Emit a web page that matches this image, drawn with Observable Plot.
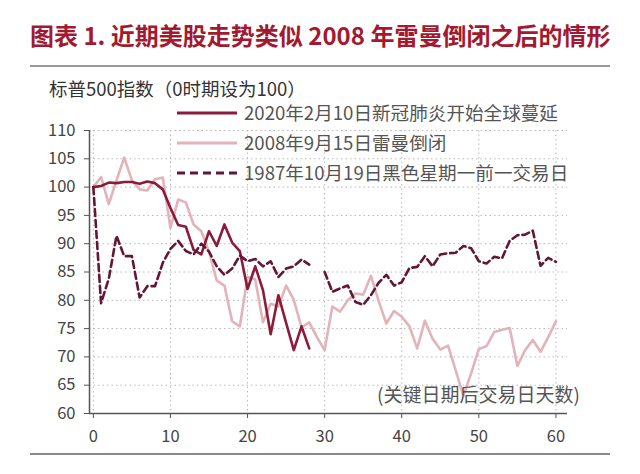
<!DOCTYPE html>
<html><head><meta charset="utf-8">
<script src="https://cdn.jsdelivr.net/npm/d3@7"></script>
<script src="https://cdn.jsdelivr.net/npm/@observablehq/plot@0.6"></script>
<style>
body{margin:0;background:#fff;font-family:"Noto Sans CJK SC","Noto Sans",sans-serif;}
#wrap{position:relative;width:640px;height:474px;overflow:hidden;background:#fff;}
#chart{position:absolute;left:0;top:0;}
.abs{position:absolute;white-space:nowrap;}
.leg{position:absolute;white-space:nowrap;font-size:18.6px;color:#555;line-height:24px;}
</style></head><body>
<div id="wrap">
  <div id="chart"></div>
  <div class="abs" style="left:30px;top:19px;font-size:24px;font-weight:bold;color:#a3192f;line-height:32px;">图表 1. 近期美股走势类似 2008 年雷曼倒闭之后的情形</div>
  <div class="abs" style="left:30px;top:65px;width:580px;height:2px;background:#9a9a9a"></div>
  <div class="abs" id="ylab" style="left:49px;top:76px;font-size:18.5px;color:#333;line-height:24px;"></div>
  <div id="legend"></div>
  <div class="abs" id="note" style="left:377px;top:381px;font-size:19px;color:#555;line-height:26px;"></div>
  <div class="abs" style="left:30px;top:453px;width:580px;height:2px;background:#8a8a8a"></div>
</div>
<script>
// ---- data ----
const seriesNames = ["2020年2月10日新冠肺炎开始全球蔓延", "2008年9月15日雷曼倒闭", "1987年10月19日黑色星期一前一交易日"];
const yTitle = "标普500指数（0时期设为100）";
const xNote = "(关键日期后交易日天数)";
const xTicks = [0, 10, 20, 30, 40, 50, 60];
const yTicks = [60, 65, 70, 75, 80, 85, 90, 95, 100, 105, 110];
const s2020 = [100, 100.2, 100.8, 100.7, 100.9, 100.9, 100.6, 101.0, 100.7, 99.6,
  96.3, 93.3, 93.0, 88.9, 88.1, 92.2, 89.6, 93.4, 90.2, 88.7,
  82.0, 86.0, 81.8, 74.0, 80.9, 76.0, 71.2, 75.4, 71.5];
const s2008 = [100, 101.8, 97.0, 101.2, 105.2, 101.2, 99.6, 99.4, 101.4, 101.7,
  92.8, 97.8, 97.3, 93.4, 92.2, 88.6, 83.5, 82.6, 76.3, 75.4,
  84.1, 83.7, 76.1, 79.4, 78.9, 82.6, 80.1, 75.2, 76.1, 73.5,
  71.2, 78.9, 78.0, 80.0, 81.2, 81.0, 84.3, 79.9, 75.9, 78.1,
  77.1, 75.4, 71.5, 76.4, 73.2, 71.3, 72.0, 67.6, 63.1, 67.1,
  71.4, 71.9, 74.4, 74.8, 75.1, 68.4, 71.2, 73.0, 70.9, 73.5, 76.3];
const s1987 = [100, 79.5, 83.8, 91.4, 87.8, 87.8, 80.5, 82.5, 82.5, 86.6,
  89.1, 90.5, 88.7, 88.1, 90.0, 88.6, 86.0, 84.5, 85.6, 87.9,
  86.9, 87.3, 86.0, 86.9, 84.1, 85.6, 86.0, 87.2, 86.3, null,
  85.0, 81.5, 82.1, 82.6, 79.7, 79.2, 80.9, 83.1, 84.5, 82.6,
  83.2, 85.7, 85.9, 87.8, 86.0, 88.1, 88.3, 88.4, 89.6, 89.2,
  86.9, 86.5, 87.7, 87.4, 90.5, 91.5, 91.6, 92.3, 86.1, 87.5, 86.8];

const colors = ["#8c1b3b", "#e2b3b9", "#621737"];
const toRows = (arr) => arr.map((v, i) => ({day: i, v}));
const r2020 = toRows(s2020), r2008 = toRows(s2008), r1987 = toRows(s1987);

const font = '"Noto Sans CJK SC","Noto Sans",sans-serif';
const chart = Plot.plot({
  width: 640, height: 474,
  marginTop: 130, marginBottom: 61, marginLeft: 89, marginRight: 73,
  style: {fontFamily: font, fontSize: "16.5px", color: "#444", background: "transparent", overflow: "visible"},
  x: {domain: [-0.5, 61.5], label: null},
  y: {domain: [60, 110], label: null},
  marks: [
    Plot.gridX(xTicks, {stroke: "#b8b8b8", strokeOpacity: 1, strokeDasharray: "1.5,3"}),
    Plot.gridY(yTicks, {stroke: "#b8b8b8", strokeOpacity: 1, strokeDasharray: "1.5,3"}),
    Plot.line(r2008, {x: "day", y: "v", stroke: colors[1], strokeWidth: 2.6, strokeLinejoin: "round"}),
    Plot.line(r2020, {x: "day", y: "v", stroke: colors[0], strokeWidth: 2.6, strokeLinejoin: "round"}),
    Plot.line(r1987, {x: "day", y: "v", stroke: colors[2], strokeWidth: 2.6, strokeDasharray: "7,4", strokeLinejoin: "round"}),
    Plot.ruleY([60], {stroke: "#555", strokeWidth: 1.5}),
    Plot.ruleX([-0.5], {y1: 60, y2: 110, stroke: "#555", strokeWidth: 1.5}),
    Plot.axisX(xTicks, {tickSize: 5, tickPadding: 12, stroke: "#555", fill: "#444"}),
    Plot.axisY(yTicks, {tickSize: 5, tickPadding: 9, stroke: "#555", fill: "#444"})
  ]
});
document.getElementById("chart").appendChild(chart);
document.getElementById("ylab").textContent = yTitle;
document.getElementById("note").textContent = xNote;

// legend
const legRows = [113, 143, 173];
const dashes = [null, null, "8,5"];
const leg = document.getElementById("legend");
seriesNames.forEach((name, i) => {
  const y = legRows[i];
  const ns = "http://www.w3.org/2000/svg";
  const svg = document.createElementNS(ns, "svg");
  svg.setAttribute("width", 62); svg.setAttribute("height", 8);
  svg.style.position = "absolute"; svg.style.left = "176px"; svg.style.top = (y - 4) + "px";
  const ln = document.createElementNS(ns, "line");
  ln.setAttribute("x1", 1); ln.setAttribute("x2", 61); ln.setAttribute("y1", 4); ln.setAttribute("y2", 4);
  ln.setAttribute("stroke", colors[i]); ln.setAttribute("stroke-width", 3);
  if (dashes[i]) ln.setAttribute("stroke-dasharray", dashes[i]);
  svg.appendChild(ln);
  leg.appendChild(svg);
  const t = document.createElement("div");
  t.className = "leg"; t.style.left = "244px"; t.style.top = (y - 13) + "px";
  t.textContent = name;
  leg.appendChild(t);
});
</script>
</body></html>
